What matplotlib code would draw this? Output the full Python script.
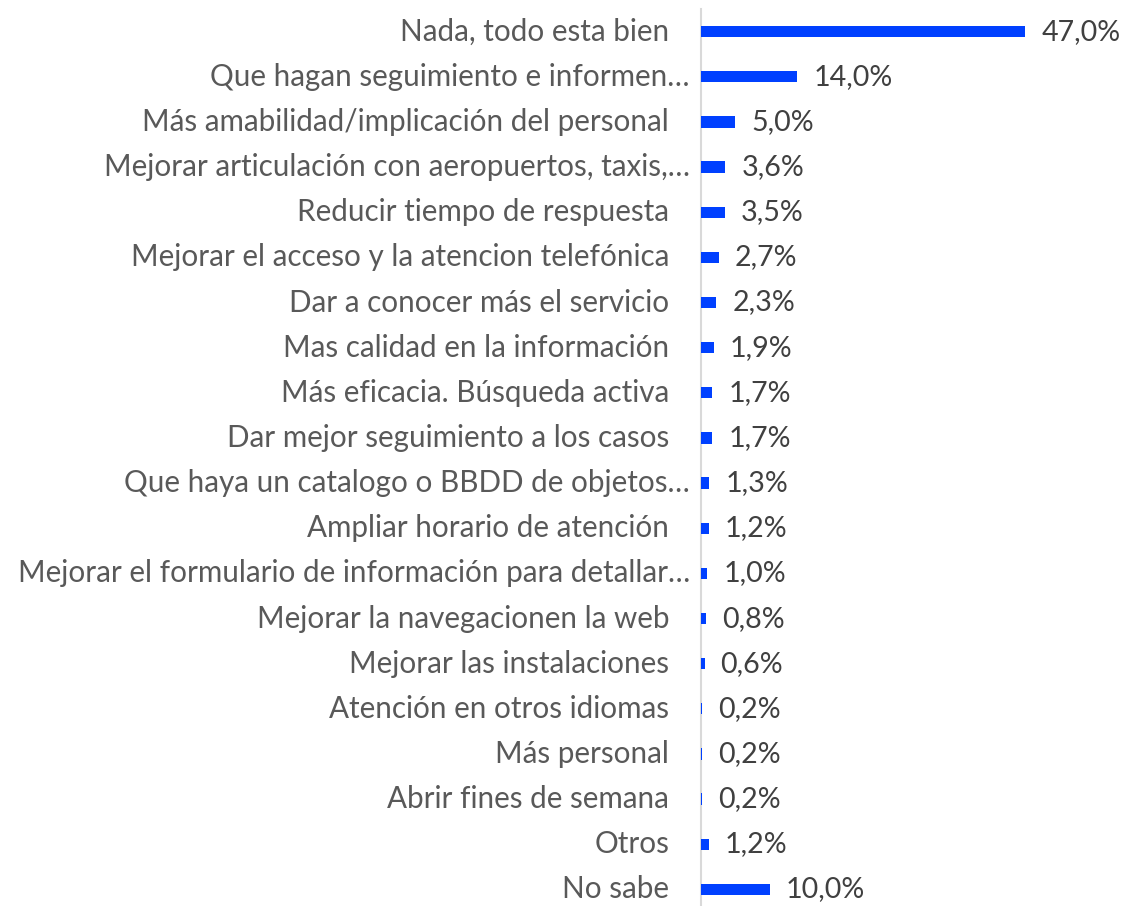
import matplotlib
matplotlib.use("Agg")
import matplotlib.pyplot as plt

categories = [
    "Nada, todo esta bien",
    "Que hagan seguimiento e informen…",
    "Más amabilidad/implicación del personal",
    "Mejorar articulación con aeropuertos, taxis,…",
    "Reducir tiempo de respuesta",
    "Mejorar el acceso y la atencion telefónica",
    "Dar a conocer más el servicio",
    "Mas calidad en la información",
    "Más eficacia. Búsqueda activa",
    "Dar mejor seguimiento a los casos",
    "Que haya un catalogo o BBDD de objetos…",
    "Ampliar horario de atención",
    "Mejorar el formulario de información para detallar…",
    "Mejorar la navegacionen la web",
    "Mejorar las instalaciones",
    "Atención en otros idiomas",
    "Más personal",
    "Abrir fines de semana",
    "Otros",
    "No sabe",
]
values = [47.0, 14.0, 5.0, 3.6, 3.5, 2.7, 2.3, 1.9, 1.7, 1.7,
          1.3, 1.2, 1.0, 0.8, 0.6, 0.2, 0.2, 0.2, 1.2, 10.0]

plt.rcParams["font.family"] = ["Lato", "DejaVu Sans"]

W, H = 1125, 906
PX_PER_UNIT = 6.91
fig = plt.figure(figsize=(W / 100, H / 100), dpi=100)
top_px, bot_px = 9.1, 912.0
left_px, right_px = 700.5, 700.5 + 55 * PX_PER_UNIT
ax = fig.add_axes([left_px / W, (H - bot_px) / H,
                   (right_px - left_px) / W, (bot_px - top_px) / H])

ypos = list(range(len(categories)))
ax.barh(ypos, values, height=0.25, color="#0040FF", edgecolor="none", zorder=3)
ax.set_xlim(0, 55)
ax.set_ylim(len(categories) - 0.5, -0.5)

# value labels to the right of each bar
for y, v in zip(ypos, values):
    ax.text(v + 2.3, y, f"{v:.1f}%".replace(".", ","), va="center", ha="left",
            fontsize=20.6, color="#404040", clip_on=False)

# category labels; truncated ones (ending in an ellipsis) sit a bit closer to the axis
for y, name in zip(ypos, categories):
    x = -1.55 if name.endswith("…") else -4.55
    ax.text(x, y, name, va="center", ha="right", fontsize=21.3,
            color="#595959", clip_on=False)

ax.set_yticks([])
ax.set_xticks([])
for side in ("top", "right", "bottom"):
    ax.spines[side].set_visible(False)
ax.spines["left"].set_color("#D9D9D9")
ax.spines["left"].set_linewidth(1.5)

fig.savefig("out.png", dpi=100)
